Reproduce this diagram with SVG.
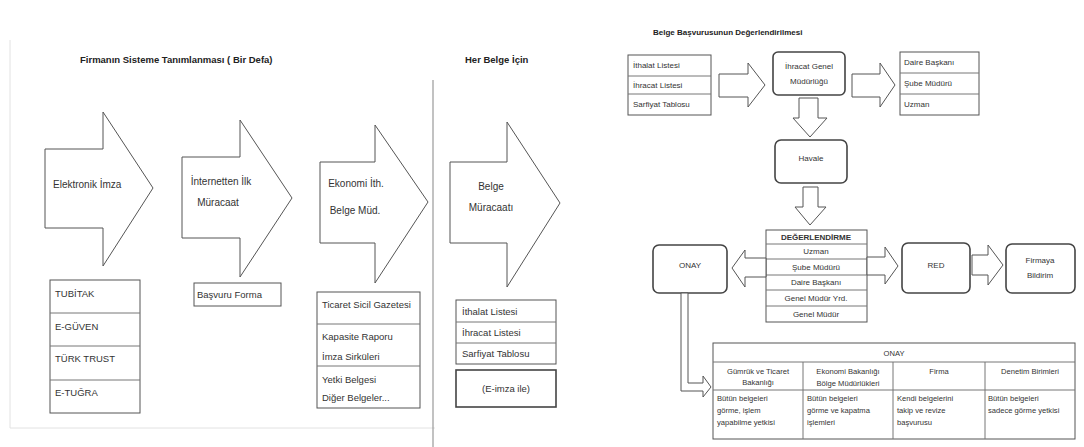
<svg xmlns="http://www.w3.org/2000/svg" width="1084" height="447" viewBox="0 0 1084 447">
<style>
  .bg{fill:#ffffff}
  .shape{fill:#ffffff;stroke:#555;stroke-width:1}
  .thick{fill:#ffffff;stroke:#444;stroke-width:1.6}
  .line{stroke:#777;stroke-width:1;fill:none}
  .frame{stroke:#e2e2e2;stroke-width:1;fill:none}
  .divider{stroke:#999;stroke-width:1.2;fill:none}
  text{font-family:"Liberation Sans","DejaVu Sans",sans-serif;fill:#333}
  .t1{font-size:9.5px}
  .ta{font-size:10px}
  .h1{font-size:9.5px;font-weight:bold;fill:#222}
  .h2{font-size:8px;font-weight:bold;fill:#222}
  .t2{font-size:8px}
  .t3{font-size:7.6px}
  .mid{text-anchor:middle}
</style>
<rect class="bg" x="0" y="0" width="1084" height="447"/>

<g id="frames">
  <path class="frame" d="M10,40 V428 H435"/>
  <path class="divider" d="M433,80 V447"/>
</g>

<g id="titles">
  <text class="h1" x="80" y="63">Firmanın Sisteme Tanımlanması ( Bir Defa)</text>
  <text class="h1" x="465" y="63">Her Belge İçin</text>
  <text class="h2" x="653" y="35">Belge Başvurusunun Değerlendirilmesi</text>
</g>

<g id="step-elektronik-imza">
  <polygon class="shape" points="45,149 103,149 103,112 153,188 103,266 103,228 45,228"/>
  <text class="ta" x="53" y="188">Elektronik İmza</text>
</g>
<g id="step-internet">
  <polygon class="shape" points="182,157 240,157 240,120 292,198 240,277 240,238 182,238"/>
  <text class="ta mid" x="221" y="185">İnternetten İlk</text>
  <text class="ta mid" x="218" y="206">Müracaat</text>
</g>
<g id="step-ekonomi">
  <polygon class="shape" points="320,162 375,162 375,125 428,202 375,283 375,243 320,243"/>
  <text class="ta mid" x="356" y="187">Ekonomi İth.</text>
  <text class="ta mid" x="355" y="214">Belge Müd.</text>
</g>
<g id="step-belge-muracaati">
  <polygon class="shape" points="450,162 507,162 507,122 560,203 507,287 507,243 450,243"/>
  <text class="ta mid" x="491" y="190">Belge</text>
  <text class="ta mid" x="491" y="211">Müracaatı</text>
</g>

<g id="list-imza">
  <rect class="shape" x="50" y="280" width="90" height="133"/>
  <path class="line" d="M50,313 H140 M50,346 H140 M50,380 H140"/>
  <text class="t1" x="55" y="297">TUBİTAK</text>
  <text class="t1" x="55" y="330">E-GÜVEN</text>
  <text class="t1" x="55" y="362">TÜRK TRUST</text>
  <text class="t1" x="55" y="396">E-TUĞRA</text>
</g>
<g id="list-basvuru">
  <rect class="shape" x="194" y="283" width="87" height="23"/>
  <text class="t1" x="197" y="298">Başvuru Forma</text>
</g>
<g id="list-belgeler">
  <rect class="shape" x="317" y="292" width="103" height="116"/>
  <path class="line" d="M317,324 H420 M317,366 H420"/>
  <text class="t1" x="322" y="308">Ticaret Sicil Gazetesi</text>
  <text class="t1" x="322" y="340">Kapasite Raporu</text>
  <text class="t1" x="322" y="360">İmza Sirküleri</text>
  <text class="t1" x="322" y="383">Yetki Belgesi</text>
  <text class="t1" x="322" y="401">Diğer Belgeler...</text>
</g>
<g id="list-listeler">
  <rect class="shape" x="456" y="300" width="100" height="64"/>
  <path class="line" d="M456,322 H556 M456,343 H556"/>
  <text class="t1" x="462" y="315">İthalat Listesi</text>
  <text class="t1" x="462" y="336">İhracat Listesi</text>
  <text class="t1" x="462" y="357">Sarfiyat Tablosu</text>
</g>
<g id="box-eimza">
  <rect class="thick" x="456" y="370" width="100" height="37"/>
  <text class="t1 mid" x="506" y="392">(E-imza ile)</text>
</g>

<g id="r-list-in">
  <rect class="shape" x="628" y="55" width="83" height="60"/>
  <path class="line" d="M628,76 H711 M628,94 H711"/>
  <text class="t2" x="633" y="68">İthalat Listesi</text>
  <text class="t2" x="633" y="88">İhracat Listesi</text>
  <text class="t2" x="633" y="107">Sarfiyat Tablosu</text>
</g>
<g id="r-ihracat">
  <rect class="thick" x="773" y="52" width="72" height="43" rx="5"/>
  <text class="t2 mid" x="809" y="69">İhracat Genel</text>
  <text class="t2 mid" x="809" y="84">Müdürlüğü</text>
</g>
<g id="r-list-out">
  <rect class="shape" x="900" y="52" width="79" height="63"/>
  <path class="line" d="M900,73 H979 M900,94 H979"/>
  <text class="t2" x="904" y="65">Daire Başkanı</text>
  <text class="t2" x="904" y="86">Şube Müdürü</text>
  <text class="t2" x="904" y="107">Uzman</text>
</g>
<g id="r-havale">
  <rect class="thick" x="775" y="140" width="72" height="43" rx="6"/>
  <text class="t2 mid" x="811" y="161">Havale</text>
</g>
<g id="r-degerlendirme">
  <rect class="shape" x="766" y="230" width="101" height="92"/>
  <path class="line" d="M766,244 H867 M766,259 H867 M766,275 H867 M766,290 H867 M766,306 H867"/>
  <text class="t2 mid" x="816" y="240" font-weight="bold">DEĞERLENDİRME</text>
  <text class="t2 mid" x="816" y="254">Uzman</text>
  <text class="t2 mid" x="816" y="270">Şube Müdürü</text>
  <text class="t2 mid" x="816" y="285">Daire Başkanı</text>
  <text class="t2 mid" x="816" y="301">Genel Müdür Yrd.</text>
  <text class="t2 mid" x="816" y="317">Genel Müdür</text>
</g>
<g id="r-onay">
  <rect class="thick" x="653" y="245" width="74" height="48" rx="6"/>
  <text class="t2 mid" x="690" y="268">ONAY</text>
</g>
<g id="r-red">
  <rect class="thick" x="902" y="243" width="68" height="50" rx="6"/>
  <text class="t2 mid" x="936" y="268">RED</text>
</g>
<g id="r-firmaya">
  <rect class="thick" x="1006" y="244" width="69" height="49" rx="6"/>
  <text class="t2 mid" x="1040" y="263">Firmaya</text>
  <text class="t2 mid" x="1040" y="278">Bildirim</text>
</g>
<g id="r-onay-table">
  <rect class="shape" x="713" y="343" width="362" height="96"/>
  <path class="line" d="M713,362 H1075 M713,390 H1075 M803,362 V439 M893,362 V439 M985,362 V439"/>
  <text class="t3 mid" x="894" y="356">ONAY</text>
  <text class="t3 mid" x="758" y="374">Gümrük ve Ticaret</text>
  <text class="t3 mid" x="758" y="385">Bakanlığı</text>
  <text class="t3 mid" x="848" y="374">Ekonomi Bakanlığı</text>
  <text class="t3 mid" x="848" y="386">Bölge Müdürlükleri</text>
  <text class="t3 mid" x="939" y="374">Firma</text>
  <text class="t3 mid" x="1030" y="374">Denetim Birimleri</text>
  <text class="t3" x="717" y="401">Bütün belgeleri</text>
  <text class="t3" x="717" y="413">görme, işlem</text>
  <text class="t3" x="717" y="425">yapabilme yetkisi</text>
  <text class="t3" x="807" y="401">Bütün belgeleri</text>
  <text class="t3" x="807" y="413">görme ve kapatma</text>
  <text class="t3" x="807" y="425">işlemleri</text>
  <text class="t3" x="897" y="401">Kendi belgelerini</text>
  <text class="t3" x="897" y="413">takip ve revize</text>
  <text class="t3" x="897" y="425">başvurusu</text>
  <text class="t3" x="988" y="401">Bütün belgeleri</text>
  <text class="t3" x="988" y="413">sadece görme yetkisi</text>
</g>

<g id="connectors">
  <polygon class="shape" points="719,74 748,74 748,63 765,85 748,107 748,97 719,97"/>
  <polygon class="shape" points="852,74 880,74 880,63 895,85 880,107 880,97 852,97"/>
  <polygon class="shape" points="799,98 818,98 818,118 827,118 810,137 793,118 799,118"/>
  <polygon class="shape" points="803,187 818,187 818,207 826,207 810,225 795,207 803,207"/>
  <polygon class="shape" points="766,258 745,258 745,250 732,268 745,287 745,277 766,277"/>
  <polygon class="shape" points="867,257 885,257 885,247 898,266 885,284 885,275 867,275"/>
  <polygon class="shape" points="972,255 988,255 988,245 1003,265 988,285 988,275 972,275"/>
  <polygon class="shape" points="681,293 688,293 688,383 703,383 703,376 711,387 703,397 703,391 681,391"/>
</g>
</svg>
